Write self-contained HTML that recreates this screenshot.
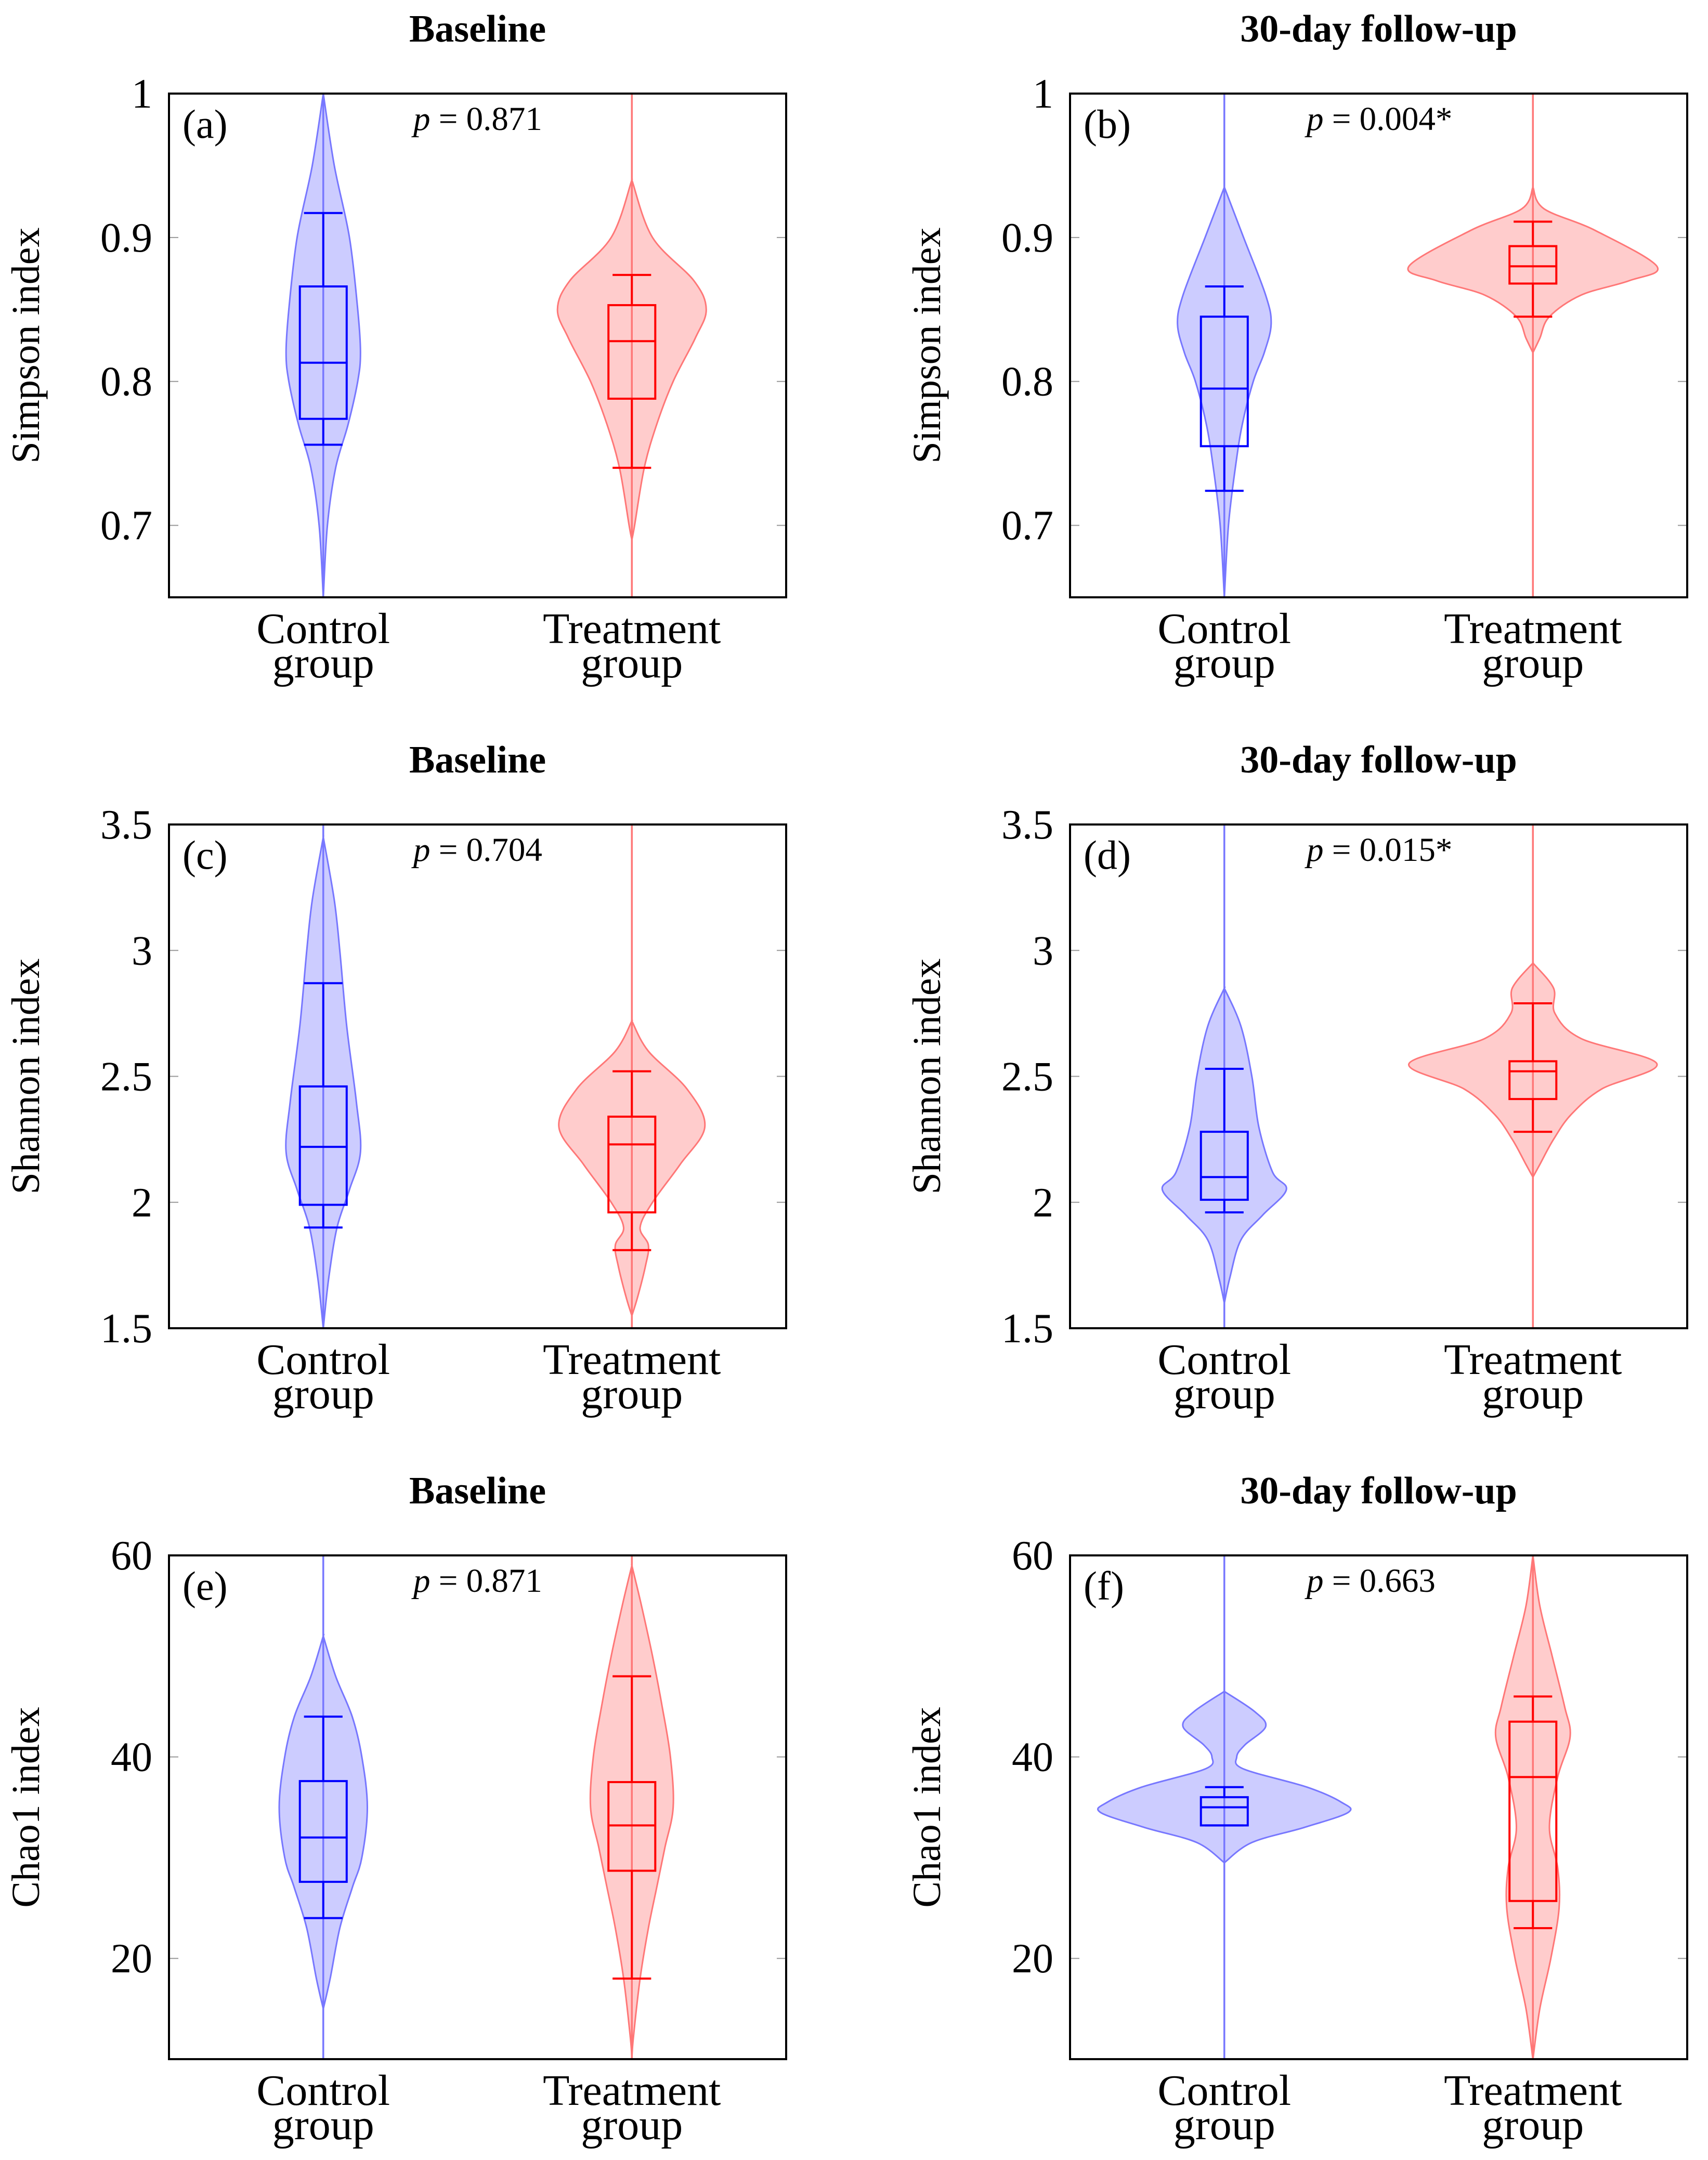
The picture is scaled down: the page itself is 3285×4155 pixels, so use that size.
<!DOCTYPE html>
<html><head><meta charset="utf-8"><style>
body{margin:0;background:#fff}
svg{display:block}
text{font-family:"Liberation Serif",serif;fill:#000}
</style></head><body>
<svg id="fig" width="3285" height="4155" viewBox="0 0 3285 4155" xmlns="http://www.w3.org/2000/svg"></svg>
<script>
// ---- data (densities as relative half-widths) ----
const panelLetters=["(a)","(b)","(c)","(d)","(e)","(f)"];
const panelTitles=["Baseline","30-day follow-up","Baseline","30-day follow-up","Baseline","30-day follow-up"];
const pValues=["0.871","0.004*","0.704","0.015*","0.871","0.663"];
const yLabels=["Simpson index","Simpson index","Shannon index","Shannon index","Chao1 index","Chao1 index"];
const yRanges=[[0.65,1],[0.65,1],[1.5,3.5],[1.5,3.5],[10,60],[10,60]];
const yTicks=[[0.7,0.8,0.9,1],[0.7,0.8,0.9,1],[1.5,2,2.5,3,3.5],[1.5,2,2.5,3,3.5],[20,40,60],[20,40,60]];
const tickText=[["0.7","0.8","0.9","1"],["0.7","0.8","0.9","1"],["1.5","2","2.5","3","3.5"],["1.5","2","2.5","3","3.5"],["20","40","60"],["20","40","60"]];
const categories=["Control|group","Treatment|group"];
// violin profiles: [value, density]
const ctrlViolin=[
 [[1.0,0],[0.95,8],[0.9,19],[0.85,25],[0.82,27],[0.8,25],[0.77,18],[0.74,9],[0.7,3],[0.65,0]],
 [[0.935,0],[0.9,14],[0.86,30],[0.84,34],[0.82,29],[0.8,21],[0.77,13],[0.74,8],[0.7,3],[0.65,0]],
 [[3.45,0],[3.2,8],[3.0,12],[2.7,17],[2.4,24],[2.2,27],[2.05,19],[1.9,10],[1.7,4],[1.5,0]],
 [[2.85,0],[2.7,12],[2.5,20],[2.3,25],[2.12,35],[2.05,45],[1.95,28],[1.85,12],[1.7,4],[1.6,0]],
 [[52,0],[48,9],[44,21],[40,28],[35,32],[30,28],[27,21],[23,12],[18,5],[15,0]],
 [[46.5,0],[44.5,22],[43,30],[41.2,15],[40,9],[38.8,14],[37,60],[35.5,85],[34.5,90],[33,58],[31.5,20],[29.5,0]]];
const treatViolin=[
 [[0.94,0],[0.9,15],[0.87,45],[0.85,54],[0.83,46],[0.8,30],[0.77,18],[0.74,9],[0.7,2],[0.69,0]],
 [[0.935,0],[0.92,8],[0.905,45],[0.88,90],[0.87,70],[0.86,35],[0.845,12],[0.83,5],[0.82,0]],
 [[2.72,0],[2.6,12],[2.45,40],[2.3,53],[2.15,35],[2.0,15],[1.9,6],[1.83,12],[1.75,10],[1.62,4],[1.55,0]],
 [[2.95,0],[2.85,15],[2.75,16],[2.65,35],[2.55,90],[2.45,50],[2.35,28],[2.25,15],[2.15,5],[2.1,0]],
 [[59,0],[55,7],[50,15],[45,22],[40,28],[35,30],[31,24],[27,18],[23,12],[18,6],[12,1],[10,0]],
 [[60,0],[55,5],[50,14],[45,23],[42,27],[38,18],[33,12],[29,18],[25,19],[20,13],[15,5],[10,0]]];
// box stats: [lowWhisker, q1, median, q3, highWhisker]
const ctrlBox=[[0.756,0.774,0.813,0.866,0.917],[0.724,0.755,0.795,0.845,0.866],[1.90,1.99,2.22,2.46,2.87],[1.96,2.01,2.10,2.28,2.53],[24,27.6,32,37.6,44],[33.2,33.2,35,36,37]];
const treatBox=[[0.740,0.788,0.828,0.853,0.874],[0.845,0.868,0.880,0.894,0.911],[1.81,1.96,2.23,2.34,2.52],[2.28,2.41,2.52,2.56,2.79],[18,28.7,33.2,37.5,48],[23,25.7,38,43.5,46]];

const NS="http://www.w3.org/2000/svg";
const svg=document.getElementById('fig');
function el(tag,attrs,parent,txt){const e=document.createElementNS(NS,tag);for(const k in attrs)e.setAttribute(k,attrs[k]);if(txt!==undefined)e.textContent=txt;(parent||svg).appendChild(e);return e;}
const S=2.649;
const colX=[325,2058], rowY=[180,1586,2992], W=1187, H=969;
function smoothPath(pts){let d="M"+pts[0][0]+","+pts[0][1];for(let i=0;i<pts.length-1;i++){const p0=pts[Math.max(i-1,0)],p1=pts[i],p2=pts[i+1],p3=pts[Math.min(i+2,pts.length-1)];const c1=[p1[0]+(p2[0]-p0[0])/6,p1[1]+(p2[1]-p0[1])/6],c2=[p2[0]-(p3[0]-p1[0])/6,p2[1]-(p3[1]-p1[1])/6];d+=" C"+c1[0].toFixed(1)+","+c1[1].toFixed(1)+" "+c2[0].toFixed(1)+","+c2[1].toFixed(1)+" "+p2[0].toFixed(1)+","+p2[1].toFixed(1);}return d;}

for(let p=0;p<6;p++){
 const x0=colX[p%2], y0=rowY[Math.floor(p/2)];
 const g=el('g',{});
 
 
 const [ymin,ymax]=yRanges[p];
 const yS=v=>y0+H-(v-ymin)/(ymax-ymin)*H;
 const xS=i=>x0+W*(0.25+0.5*i);
 const t=el('text',{x:x0+W/2,y:y0-100,'text-anchor':'middle','font-size':74,'font-weight':'bold'},g,panelTitles[p]);
 
 // ticks
 yTicks[p].forEach((v,i)=>{const y=yS(v);
  el('line',{x1:x0,x2:x0+18,y1:y,y2:y,stroke:'#999','stroke-width':2},g);
  el('line',{x1:x0+W-18,x2:x0+W,y1:y,y2:y,stroke:'#999','stroke-width':2},g);
  const tt=el('text',{x:x0-32,y:y+27,'text-anchor':'end','font-size':80},g,tickText[p][i]);
  });
 const yl=el('text',{x:0,y:0,'text-anchor':'middle','font-size':76,transform:`translate(${x0-250},${y0+H/2}) rotate(-90)`},g,yLabels[p]);
 
 // violins
 [[ctrlViolin[p],ctrlBox[p],'#0000ff','rgba(0,0,255,0.2)','#7777ff'],[treatViolin[p],treatBox[p],'#ff0000','rgba(255,0,0,0.2)','#ff7777']].forEach((s,i)=>{
  const cx=xS(i);
  const right=s[0].map(d=>[cx+d[1]*S,yS(d[0])]);
  const left=s[0].slice().reverse().map(d=>[cx-d[1]*S,yS(d[0])]);
  const v=el('path',{d:smoothPath(right)+" "+smoothPath(left).replace('M','L')+" Z",fill:s[3],stroke:s[4],'stroke-width':3},g);
  
  el('line',{x1:cx,x2:cx,y1:y0,y2:y0+H,stroke:s[4],'stroke-width':3.5},g);
  const b=s[1],bw=17*S,cw=14*S;
  const bx=el('rect',{x:cx-bw,y:yS(b[3]),width:2*bw,height:yS(b[1])-yS(b[3]),fill:'none',stroke:s[2],'stroke-width':4},g);
  
  el('line',{x1:cx-bw,x2:cx+bw,y1:yS(b[2]),y2:yS(b[2]),stroke:s[2],'stroke-width':4},g);
  el('line',{x1:cx,x2:cx,y1:yS(b[4]),y2:yS(b[3]),stroke:s[2],'stroke-width':4},g);
  el('line',{x1:cx,x2:cx,y1:yS(b[1]),y2:yS(b[0]),stroke:s[2],'stroke-width':4},g);
  el('line',{x1:cx-cw,x2:cx+cw,y1:yS(b[4]),y2:yS(b[4]),stroke:s[2],'stroke-width':4},g);
  el('line',{x1:cx-cw,x2:cx+cw,y1:yS(b[0]),y2:yS(b[0]),stroke:s[2],'stroke-width':4},g);
  const lines=categories[i].split('|');
  lines.forEach((ln,k)=>{const xl=el('text',{x:cx,y:y0+H+88+k*66,'text-anchor':'middle','font-size':84},g,ln);
   });
 });
 const fr=el('rect',{x:x0,y:y0,width:W,height:H,fill:'none',stroke:'#000','stroke-width':4},g);
 
 const lt=el('text',{x:x0+26,y:y0+85,'font-size':78},g,panelLetters[p]);
 
 const pt=el('text',{x:x0+(p%2?455:470),y:y0+70,'font-size':65},g);
 
 el('tspan',{'font-style':'italic'},pt,'p');
 el('tspan',{},pt,' = '+pValues[p]);
}
</script>
</body></html>
